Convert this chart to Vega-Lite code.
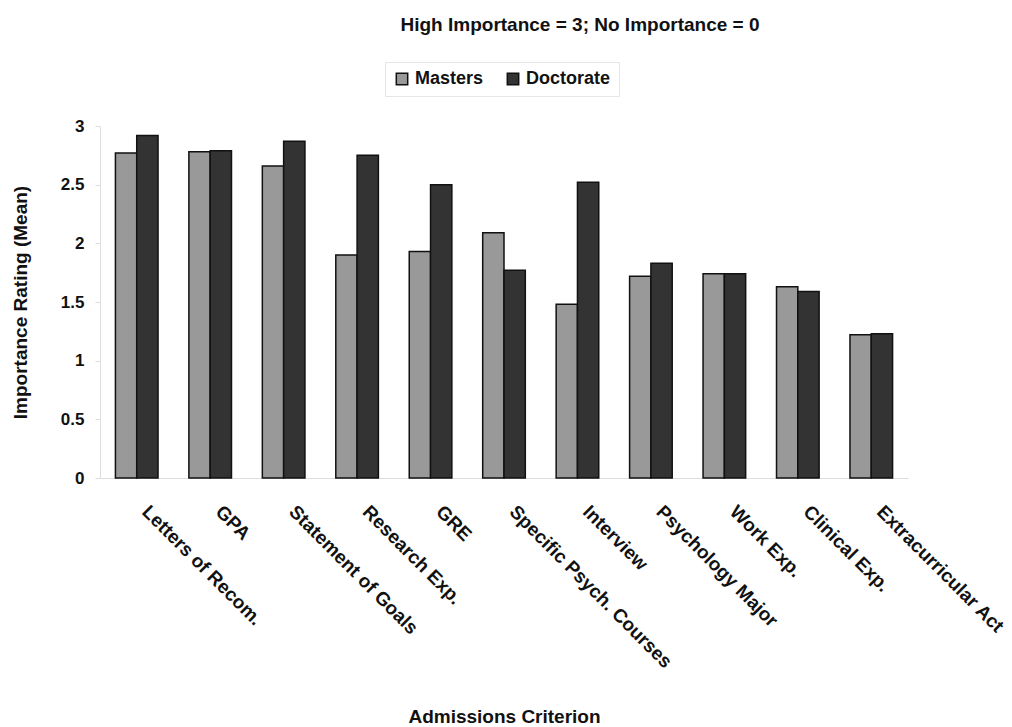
{
  "$schema": "https://vega.github.io/schema/vega-lite/v6.json",
  "autosize": "none",
  "width": 808,
  "height": 352,
  "padding": {"left": 100, "top": 126, "right": 104, "bottom": 249},
  "background": "white",
  "title": {
    "text": "High Importance = 3; No Importance = 0",
    "font": "Liberation Sans",
    "fontSize": 19,
    "fontWeight": "bold",
    "color": "#111111",
    "anchor": "middle",
    "dx": 76,
    "offset": 27
  },
  "config": {
    "view": {"stroke": null},
    "font": "Liberation Sans"
  },
  "data": {
    "values": [
      {"criterion": "Letters of Recom.", "program": "Masters", "rating": 2.77},
      {"criterion": "Letters of Recom.", "program": "Doctorate", "rating": 2.92},
      {"criterion": "GPA", "program": "Masters", "rating": 2.78},
      {"criterion": "GPA", "program": "Doctorate", "rating": 2.79},
      {"criterion": "Statement of Goals", "program": "Masters", "rating": 2.66},
      {"criterion": "Statement of Goals", "program": "Doctorate", "rating": 2.87},
      {"criterion": "Research Exp.", "program": "Masters", "rating": 1.9},
      {"criterion": "Research Exp.", "program": "Doctorate", "rating": 2.75},
      {"criterion": "GRE", "program": "Masters", "rating": 1.93},
      {"criterion": "GRE", "program": "Doctorate", "rating": 2.5},
      {"criterion": "Specific Psych. Courses", "program": "Masters", "rating": 2.09},
      {"criterion": "Specific Psych. Courses", "program": "Doctorate", "rating": 1.77},
      {"criterion": "Interview", "program": "Masters", "rating": 1.48},
      {"criterion": "Interview", "program": "Doctorate", "rating": 2.52},
      {"criterion": "Psychology Major", "program": "Masters", "rating": 1.72},
      {"criterion": "Psychology Major", "program": "Doctorate", "rating": 1.83},
      {"criterion": "Work Exp.", "program": "Masters", "rating": 1.74},
      {"criterion": "Work Exp.", "program": "Doctorate", "rating": 1.74},
      {"criterion": "Clinical Exp.", "program": "Masters", "rating": 1.63},
      {"criterion": "Clinical Exp.", "program": "Doctorate", "rating": 1.59},
      {"criterion": "Extracurricular Act", "program": "Masters", "rating": 1.22},
      {"criterion": "Extracurricular Act", "program": "Doctorate", "rating": 1.23}
    ]
  },
  "mark": {"type": "bar", "stroke": "#111111", "strokeWidth": 1.5},
  "encoding": {
    "x": {
      "field": "criterion",
      "type": "nominal",
      "sort": null,
      "scale": {"paddingInner": 0.42, "paddingOuter": 0.21},
      "axis": {
        "title": "Admissions Criterion",
        "titleFont": "Liberation Sans",
        "titleFontSize": 19,
        "titleFontWeight": "bold",
        "titleColor": "#111111",
        "titlePadding": 36,
        "labelAngle": 45,
        "labelAlign": "left",
        "labelBaseline": "top",
        "labelFont": "Liberation Sans",
        "labelFontSize": 19,
        "labelFontWeight": "bold",
        "labelColor": "#111111",
        "labelPadding": 24,
        "labelOffset": 15,
        "labelLimit": 400,
        "domainColor": "#dddddd",
        "ticks": false
      }
    },
    "xOffset": {"field": "program", "type": "nominal", "sort": ["Masters", "Doctorate"]},
    "y": {
      "field": "rating",
      "type": "quantitative",
      "scale": {"domain": [0, 3]},
      "axis": {
        "title": "Importance Rating (Mean)",
        "titleFont": "Liberation Sans",
        "titleFontSize": 19,
        "titleFontWeight": "bold",
        "titleColor": "#111111",
        "titlePadding": 30,
        "values": [0, 0.5, 1, 1.5, 2, 2.5, 3],
        "format": "~g",
        "labelFont": "Liberation Sans",
        "labelFontSize": 17,
        "labelFontWeight": "bold",
        "labelColor": "#111111",
        "labelPadding": 11,
        "grid": false,
        "domainColor": "#dddddd",
        "tickColor": "#dddddd",
        "tickSize": 5
      }
    },
    "color": {
      "field": "program",
      "type": "nominal",
      "sort": ["Masters", "Doctorate"],
      "scale": {"domain": ["Masters", "Doctorate"], "range": ["#999999", "#333333"]},
      "legend": {
        "title": null,
        "orient": "none",
        "direction": "horizontal",
        "legendX": 285,
        "legendY": -64,
        "symbolType": "square",
        "symbolSize": 130,
        "symbolStrokeColor": "#111111",
        "symbolStrokeWidth": 1.5,
        "labelFont": "Liberation Sans",
        "labelFontSize": 18,
        "labelFontWeight": "bold",
        "labelColor": "#111111",
        "columnPadding": 20,
        "padding": 8,
        "strokeColor": "#e6e6e6"
      }
    }
  }
}
